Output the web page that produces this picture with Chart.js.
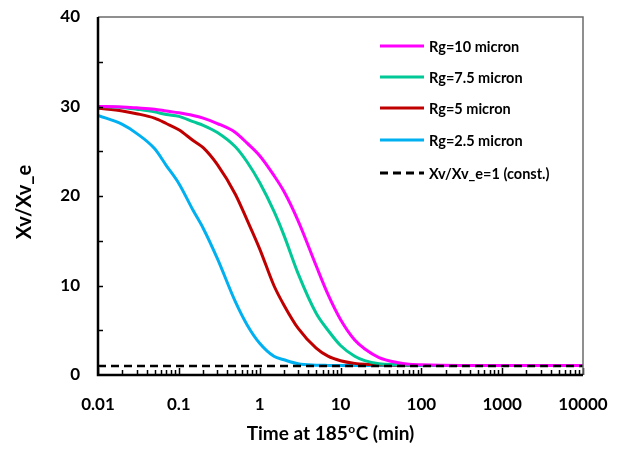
<!DOCTYPE html>
<html>
<head>
<meta charset="utf-8">
<title>Xv/Xv_e vs time</title>
<script src="https://cdn.jsdelivr.net/npm/chart.js@4.4.0/dist/chart.umd.min.js"></script>
<style>
    body { margin: 0; background: #fff; }
    #wrap { width: 618px; height: 451px; }
</style>
</head>
<body>
<div id="wrap"><canvas id="chart"></canvas></div>
<script>
// time (min), log axis
const times = [0.01, 0.02, 0.03, 0.05, 0.07, 0.1, 0.15, 0.2, 0.3, 0.5, 0.7, 1, 1.5, 2, 3, 5, 7, 10, 15, 20, 30, 50, 70, 100, 1000, 10000];

const rg10 = [30.0, 29.95, 29.85, 29.7, 29.5, 29.3, 29.0, 28.7, 28.1, 27.1, 25.9, 24.5, 22.3, 20.5, 17.2, 12.2, 9.0, 6.2, 3.9, 2.9, 1.95, 1.4, 1.2, 1.15, 1.05, 1.05];
const rg75 = [30.0, 29.9, 29.7, 29.4, 29.1, 28.9, 28.3, 27.9, 27.1, 25.5, 23.8, 21.5, 18.3, 15.6, 11.3, 6.9, 5.0, 3.3, 2.1, 1.6, 1.25, 1.15, 1.1, 1.07, 1.05, 1.05];
const rg5 = [29.8, 29.5, 29.2, 28.7, 28.1, 27.4, 26.2, 25.4, 23.5, 20.2, 17.3, 14.1, 10.0, 7.8, 5.2, 3.0, 2.1, 1.6, 1.3, 1.2, 1.15, 1.1, 1.07, 1.05, 1.05, 1.05];
const rg25 = [29.0, 28.0, 27.0, 25.3, 23.4, 21.4, 18.4, 16.4, 13.0, 8.2, 5.6, 3.55, 2.1, 1.7, 1.25, 1.1, 1.07, 1.05, 1.05, 1.05, 1.05, 1.05, 1.05, 1.05, 1.05, 1.05];

const constTimes = [0.01, 10000];
const constVals = [1, 1];

const seriesLabels = ["Rg=10 micron", "Rg=7.5 micron", "Rg=5 micron", "Rg=2.5 micron", "Xv/Xv_e=1 (const.)"];
const seriesColors = ["#ff00ff", "#00c896", "#c00000", "#00b0f0", "#000000"];

const yTicks = [0, 10, 20, 30, 40];
const xTicks = [0.01, 0.1, 1, 10, 100, 1000, 10000];

const FONT = "Lato, 'Open Sans', sans-serif";

const toPoints = (xs, ys) => xs.map((x, i) => ({ x: x, y: ys[i] }));

// inside tick marks, frame, legend and axis titles
const decorPlugin = {
    id: "decor",
    afterDraw(chart) {
        const ctx = chart.ctx;
        const area = chart.chartArea;
        const xs = chart.scales.x;
        const ys = chart.scales.y;
        ctx.save();

        // y ticks every 5, inside
        ctx.strokeStyle = "#000";
        ctx.lineWidth = 1.5;
        for (let v = 5; v < 40; v += 5) {
            const py = Math.round(ys.getPixelForValue(v)) + 0.5;
            ctx.beginPath();
            ctx.moveTo(area.left, py);
            ctx.lineTo(area.left + 5, py);
            ctx.stroke();
        }
        // x ticks: decades + minors, inside
        for (let e = -2; e <= 4; e++) {
            for (let m = 1; m <= 9; m++) {
                const v = m * Math.pow(10, e);
                if (v > 10000) break;
                const px = Math.round(xs.getPixelForValue(v)) + 0.5;
                const len = m === 1 ? 7 : 5;
                ctx.beginPath();
                ctx.moveTo(px, area.bottom);
                ctx.lineTo(px, area.bottom - len);
                ctx.stroke();
            }
        }

        // frame
        ctx.strokeStyle = "#6b6b6b";
        ctx.lineWidth = 1.5;
        ctx.beginPath();
        ctx.moveTo(area.left, area.top);
        ctx.lineTo(area.right, area.top);
        ctx.lineTo(area.right, area.bottom);
        ctx.stroke();
        ctx.strokeStyle = "#000";
        ctx.lineWidth = 2.5;
        ctx.beginPath();
        ctx.moveTo(area.left, area.top);
        ctx.lineTo(area.left, area.bottom);
        ctx.lineTo(area.right, area.bottom);
        ctx.stroke();

        // legend
        const rowsY = [46, 77, 108, 140, 173];
        ctx.font = "bold 14.5px " + FONT;
        ctx.textBaseline = "middle";
        ctx.textAlign = "left";
        chart.data.datasets.forEach((ds, i) => {
            const y = rowsY[i];
            ctx.strokeStyle = ds.borderColor;
            ctx.lineWidth = 3;
            ctx.setLineDash(ds.borderDash || []);
            ctx.beginPath();
            ctx.moveTo(380, y);
            ctx.lineTo(424, y);
            ctx.stroke();
            ctx.setLineDash([]);
            ctx.fillStyle = "#000";
            ctx.fillText(ds.label, 429, y + 1);
        });

        // y title
        ctx.fillStyle = "#000";
        ctx.font = "bold 20px " + FONT;
        ctx.textAlign = "center";
        ctx.translate(25, 202);
        ctx.rotate(-Math.PI / 2);
        ctx.fillText("Xv/Xv_e", 0, 0);
        ctx.setTransform(1, 0, 0, 1, 0, 0);

        // x title with superscript o
        const big = "bold 19px " + FONT;
        const small = "bold 12px " + FONT;
        const partA = "Time at 185";
        const sup = "o";
        const partB = "C (min)";
        ctx.font = big;
        const wA = ctx.measureText(partA).width;
        const wB = ctx.measureText(partB).width;
        ctx.font = small;
        const wS = ctx.measureText(sup).width;
        let x0 = 330 - (wA + wS + wB) / 2;
        const yBase = 440;
        ctx.textAlign = "left";
        ctx.textBaseline = "alphabetic";
        ctx.font = big;
        ctx.fillText(partA, x0, yBase);
        ctx.font = small;
        ctx.fillText(sup, x0 + wA + 0.5, yBase - 7);
        ctx.font = big;
        ctx.fillText(partB, x0 + wA + wS + 1, yBase);

        ctx.restore();
    },
};

document.addEventListener("DOMContentLoaded", () => {
    const ctx = document.getElementById("chart");

    const curves = [rg10, rg75, rg5, rg25];
    const datasets = curves.map((vals, i) => ({
        label: seriesLabels[i],
        data: toPoints(times, vals),
        borderColor: seriesColors[i],
        backgroundColor: seriesColors[i],
        borderWidth: 3,
        pointRadius: 0,
        cubicInterpolationMode: "monotone",
        order: i + 1,
    }));
    datasets.push({
        label: seriesLabels[4],
        data: toPoints(constTimes, constVals),
        borderColor: seriesColors[4],
        backgroundColor: seriesColors[4],
        borderWidth: 2.5,
        borderDash: [8, 5],
        pointRadius: 0,
        order: 0,
    });

    new Chart(ctx, {
        type: "line",
        data: { datasets: datasets },
        plugins: [decorPlugin],
        options: {
            responsive: true,
            maintainAspectRatio: false,
            animation: false,
            layout: { padding: { left: 0, top: 17, right: 35, bottom: 0 } },
            plugins: {
                legend: { display: false },
                tooltip: { enabled: false },
            },
            scales: {
                x: {
                    type: "logarithmic",
                    min: 0.01,
                    max: 10000,
                    grid: { display: false, drawTicks: false },
                    border: { display: false },
                    afterFit: (scale) => {
                        scale.height = 76;
                        scale.paddingLeft = 0;
                        scale.paddingRight = 0;
                    },
                    afterBuildTicks: (scale) => {
                        scale.ticks = xTicks.map((v) => ({ value: v }));
                    },
                    ticks: {
                        autoSkip: false,
                        maxRotation: 0,
                        padding: 19,
                        color: "#000",
                        font: { family: FONT, size: 17, weight: "bold" },
                        callback: (v) => String(v),
                    },
                },
                y: {
                    min: 0,
                    max: 40,
                    grid: { display: false, drawTicks: false },
                    border: { display: false },
                    afterFit: (scale) => {
                        scale.width = 98;
                        scale.paddingTop = 0;
                        scale.paddingBottom = 0;
                    },
                    afterBuildTicks: (scale) => {
                        scale.ticks = yTicks.map((v) => ({ value: v }));
                    },
                    ticks: {
                        padding: 18,
                        color: "#000",
                        font: { family: FONT, size: 17, weight: "bold" },
                    },
                },
            },
        },
    });
});
</script>
</body>
</html>
